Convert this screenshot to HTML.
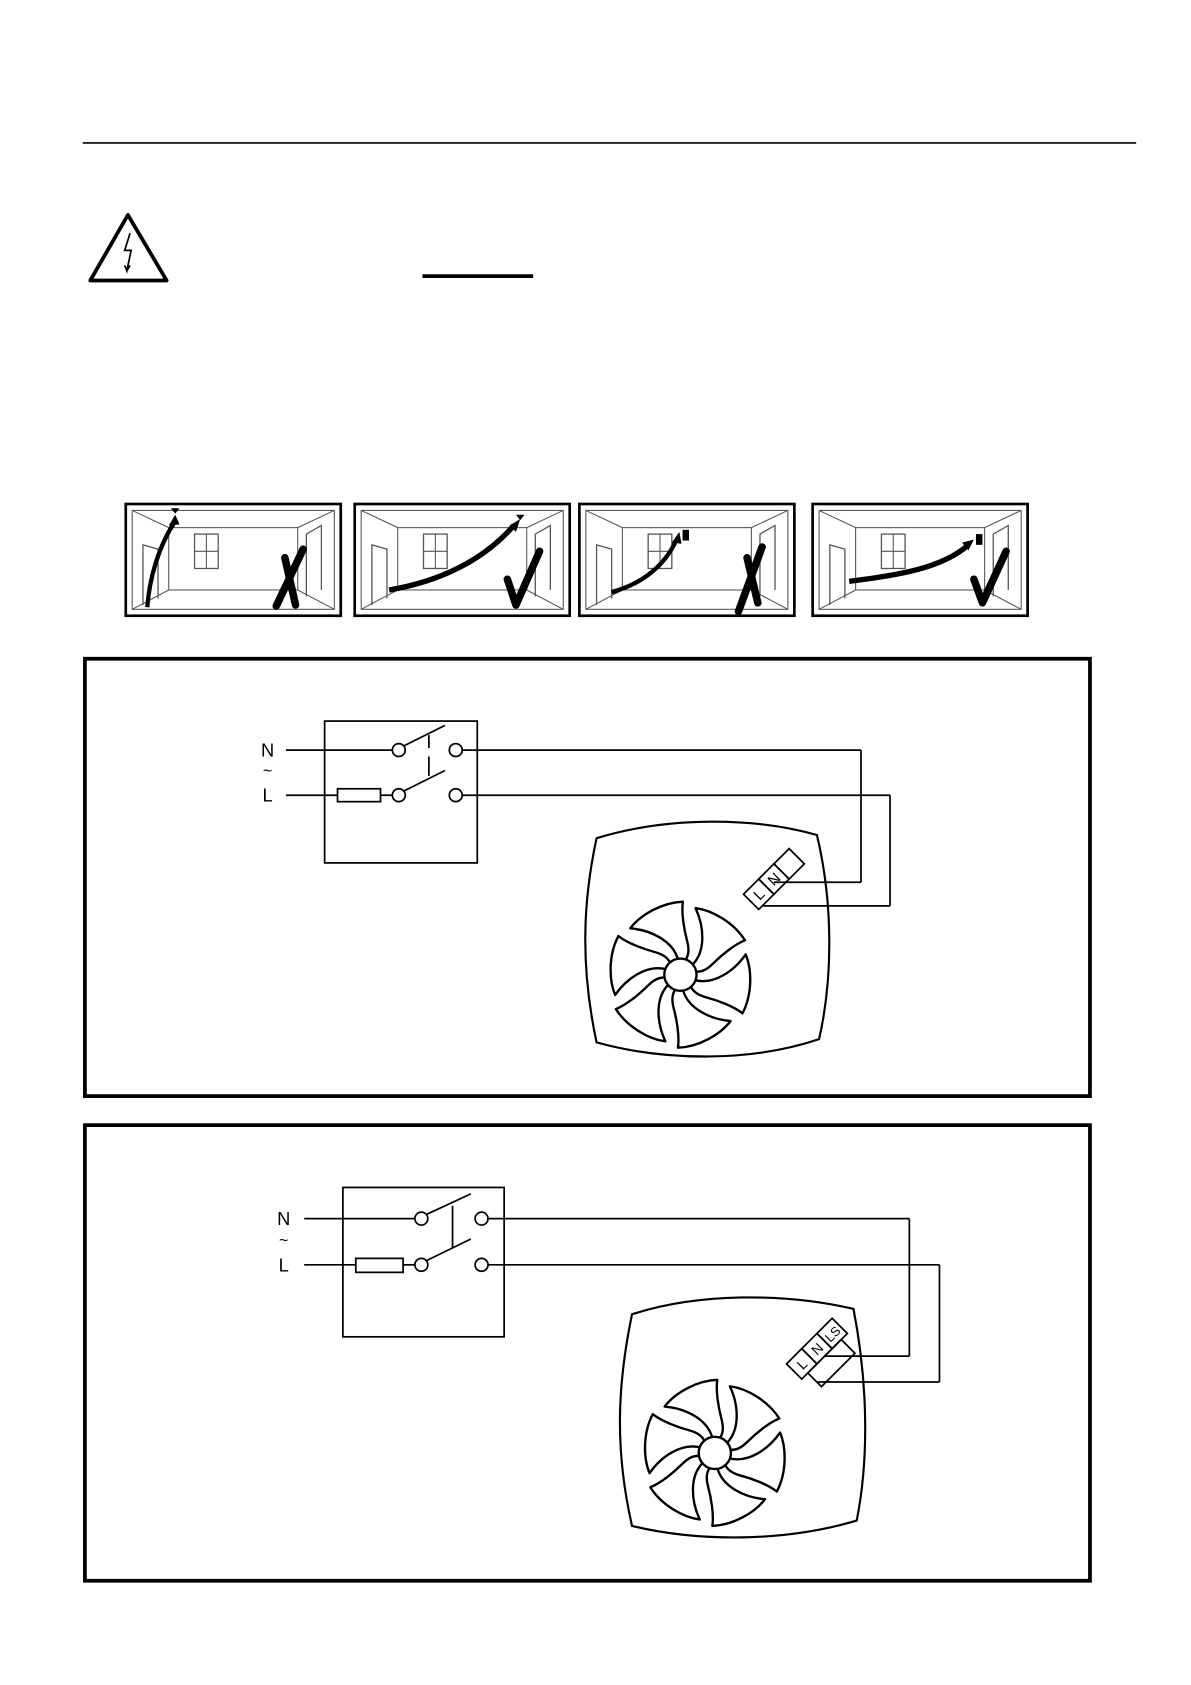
<!DOCTYPE html>
<html><head><meta charset="utf-8"><style>
html,body{margin:0;padding:0;background:#fff}
svg{display:block}
text{font-family:"Liberation Sans",sans-serif}
</style></head><body>
<svg width="1191" height="1685" viewBox="0 0 1108 1568" preserveAspectRatio="none" xmlns="http://www.w3.org/2000/svg">
<defs>
<g id="blade"><path d="M11,-9 C24,-22 22,-45 14,-62 C30,-60 50,-48 60,-32 C50,-28 38,-18 30,-10 C24,-4 18,-2 13,-3 Z" fill="#fff" stroke="#000" stroke-width="2.2" stroke-linejoin="round"/></g>
<g id="rotor">
<use href="#blade"/><use href="#blade" transform="rotate(60)"/><use href="#blade" transform="rotate(120)"/><use href="#blade" transform="rotate(180)"/><use href="#blade" transform="rotate(240)"/><use href="#blade" transform="rotate(300)"/>
<circle r="15" fill="#fff" stroke="#000" stroke-width="2.2"/>
</g>
<g id="room">
<rect x="0" y="0" width="200" height="104" fill="#fff" stroke="#000" stroke-width="2.5"/>
<rect x="6" y="6" width="188" height="92" fill="none" stroke="#555" stroke-width="1"/>
<rect x="40" y="22" width="120" height="58" fill="none" stroke="#555" stroke-width="1"/>
<path d="M6,6 L40,22 M194,6 L160,22 M6,98 L40,80 M194,98 L160,80" stroke="#555" stroke-width="1"/>
<rect x="64" y="28" width="22" height="32" fill="none" stroke="#555" stroke-width="1.2"/>
<path d="M75,28 V60 M64,44 H86" stroke="#555" stroke-width="1"/>
<path d="M16,94 V38 L30,42 V88" fill="none" stroke="#555" stroke-width="1.2"/>
<path d="M168,86 V28 L182,20 V80" fill="none" stroke="#555" stroke-width="1.2"/>
</g>
</defs>
<line x1="77" y1="133" x2="1057" y2="133" stroke="#000" stroke-width="1.5"/>
<path d="M119,200 L155,261 L84,261 Z" fill="#fff" stroke="#000" stroke-width="3.5" stroke-linejoin="round"/>
<path d="M121,217 L116,233 L122,233 L118,252 L116,247 M118,252 L121,247" fill="none" stroke="#000" stroke-width="1.6"/>
<line x1="393" y1="257" x2="496" y2="257" stroke="#000" stroke-width="3.5"/>
<g transform="translate(117,469)"><use href="#room"/>
<path d="M20,96 C22,70 30,40 46,16" fill="none" stroke="#000" stroke-width="4"/><path d="M46,10 L40,20 L50,19 Z"/><path d="M42,4 h8 l-4,5z"/>
<path d="M140,95 L165,42 M148,50 L158,94" stroke="#000" stroke-width="7" stroke-linecap="round"/></g>
<g transform="translate(330,469)"><use href="#room"/>
<path d="M32,80 C80,72 120,52 148,20" fill="none" stroke="#000" stroke-width="5"/><path d="M154,14 L144,20 L150,26 Z"/><path d="M150,10 h8 l-4,5z"/>
<path d="M142,70 L150,94 L172,44" fill="none" stroke="#000" stroke-width="7" stroke-linecap="round" stroke-linejoin="round"/></g>
<g transform="translate(539,469)"><use href="#room"/>
<path d="M30,82 C60,74 80,56 90,34" fill="none" stroke="#000" stroke-width="4"/><path d="M93,26 L86,36 L95,37 Z"/><rect x="96" y="24" width="6" height="10"/>
<path d="M148,100 L170,40 M156,50 L166,92" stroke="#000" stroke-width="7" stroke-linecap="round"/></g>
<g transform="translate(756,469)"><use href="#room"/>
<path d="M34,72 C80,66 120,60 145,38" fill="none" stroke="#000" stroke-width="5"/><path d="M150,33 L139,36 L145,43 Z"/><rect x="152" y="28" width="6" height="10"/>
<path d="M150,70 L158,92 L180,44" fill="none" stroke="#000" stroke-width="7" stroke-linecap="round" stroke-linejoin="round"/></g>
<rect x="79" y="613" width="935" height="407" fill="none" stroke="#000" stroke-width="3.5"/>
<g fill="none" stroke="#000" stroke-width="1.6">
<rect x="302" y="671" width="142" height="132"/>
<line x1="266" y1="698" x2="365" y2="698"/>
<line x1="266" y1="740" x2="314" y2="740"/><line x1="354" y1="740" x2="365" y2="740"/>
<rect x="314" y="734" width="40" height="12"/>
<circle cx="371" cy="698" r="6"/><circle cx="424" cy="698" r="6"/>
<circle cx="371" cy="740" r="6"/><circle cx="424" cy="740" r="6"/>
<line x1="376" y1="694" x2="414" y2="675"/><line x1="376" y1="736" x2="414" y2="717"/>
<line x1="399" y1="684" x2="399" y2="696"/><line x1="399" y1="704" x2="399" y2="722"/>
<line x1="430" y1="698" x2="801" y2="698"/><line x1="801" y1="698" x2="801" y2="821"/><line x1="801" y1="821" x2="720" y2="821"/>
<line x1="430" y1="740" x2="828" y2="740"/><line x1="828" y1="740" x2="828" y2="843"/><line x1="828" y1="843" x2="710" y2="843"/>
<path d="M555,780 C620,760 700,760 760,777 C775,840 775,910 762,967 C700,988 620,988 555,970 C540,900 542,840 555,780 Z" stroke-width="2"/>
<g transform="translate(720,818) rotate(-45)">
<rect x="-30" y="-10" width="20" height="20"/><rect x="-10" y="-10" width="20" height="20"/><rect x="10" y="-10" width="20" height="20"/>
</g>
</g>
<g transform="translate(720,818) rotate(-45)" font-size="14" text-anchor="middle">
<text x="-20" y="5">L</text><text x="0" y="5">N</text>
</g>
<g transform="translate(633,907)"><use href="#rotor"/></g>
<text x="249" y="704" font-size="17" text-anchor="middle">N</text>
<text x="249" y="722" font-size="15" text-anchor="middle">~</text>
<text x="249" y="746" font-size="17" text-anchor="middle">L</text>
<rect x="79" y="1047" width="935" height="424" fill="none" stroke="#000" stroke-width="3.5"/>
<g fill="none" stroke="#000" stroke-width="1.6">
<rect x="319" y="1105" width="150" height="139"/>
<line x1="283" y1="1134" x2="386" y2="1134"/>
<line x1="283" y1="1177" x2="331" y2="1177"/><line x1="375" y1="1177" x2="386" y2="1177"/>
<rect x="331" y="1171" width="44" height="13"/>
<circle cx="392" cy="1134" r="6"/><circle cx="448" cy="1134" r="6"/>
<circle cx="392" cy="1177" r="6"/><circle cx="448" cy="1177" r="6"/>
<line x1="397" y1="1130" x2="438" y2="1111"/><line x1="397" y1="1173" x2="438" y2="1153"/>
<line x1="421" y1="1122" x2="421" y2="1162"/>
<line x1="454" y1="1134" x2="846" y2="1134"/><line x1="846" y1="1134" x2="846" y2="1262"/><line x1="846" y1="1262" x2="768" y2="1262"/>
<line x1="454" y1="1177" x2="874" y2="1177"/><line x1="874" y1="1177" x2="874" y2="1286"/><line x1="874" y1="1286" x2="760" y2="1286"/>
<path d="M588,1223 C650,1203 730,1203 794,1218 C808,1290 808,1360 797,1415 C730,1435 650,1435 588,1420 C572,1350 574,1290 588,1223 Z" stroke-width="2"/>
<g transform="translate(760,1255) rotate(-45)">
<rect x="-30" y="-10" width="20" height="20"/><rect x="-10" y="-10" width="20" height="20"/><rect x="10" y="-10" width="20" height="20"/>
<rect x="-22" y="10" width="44" height="18"/>
</g>
</g>
<g transform="translate(760,1255) rotate(-45)" font-size="13" text-anchor="middle">
<text x="-20" y="5">L</text><text x="0" y="5">N</text><text x="20" y="5" font-size="12">LS</text>
</g>
<g transform="translate(665,1352)"><use href="#rotor"/></g>
<text x="264" y="1140" font-size="17" text-anchor="middle">N</text>
<text x="264" y="1159" font-size="15" text-anchor="middle">~</text>
<text x="264" y="1183" font-size="17" text-anchor="middle">L</text>
</svg>
</body></html>
